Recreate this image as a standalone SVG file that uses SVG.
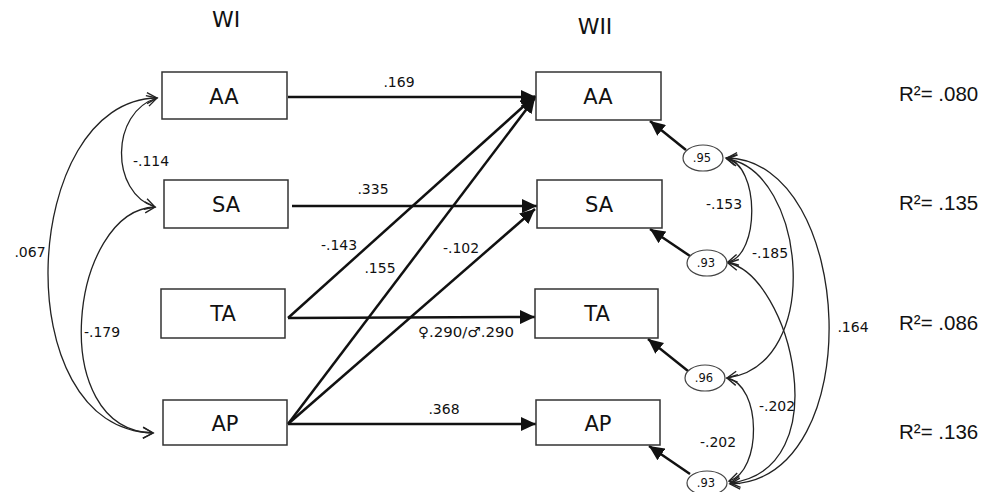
<svg xmlns="http://www.w3.org/2000/svg" width="998" height="492" viewBox="0 0 998 492">
<style>
.box{fill:#fff;stroke:#333;stroke-width:1.5}
.ell{fill:#fff;stroke:#444;stroke-width:1.2}
.bl{font-family:"DejaVu Sans",Verdana,sans-serif;font-size:21px;fill:#111;text-anchor:middle}
.hd{font-family:"DejaVu Sans",Verdana,sans-serif;font-size:22px;fill:#111;text-anchor:middle}
.lb{font-family:"DejaVu Sans",Verdana,sans-serif;font-size:14px;fill:#111;text-anchor:middle}
.el{font-family:"DejaVu Sans",Verdana,sans-serif;font-size:11.5px;fill:#111;text-anchor:middle}
.r2{font-family:"Liberation Sans",Arial,sans-serif;font-size:20.5px;fill:#111}
.path{fill:none;stroke:#111;stroke-width:2.5;marker-end:url(#fa)}
.cor{fill:none;stroke:#222;stroke-width:1.3;marker-start:url(#oa);marker-end:url(#oa)}
</style>
<defs>
<marker id="fa" markerUnits="userSpaceOnUse" markerWidth="16" markerHeight="14" refX="15" refY="7" orient="auto">
<path d="M0,0 L15,7 L0,14 Z" fill="#111"/>
</marker>
<marker id="oa" markerUnits="userSpaceOnUse" markerWidth="14" markerHeight="14" refX="11" refY="7" orient="auto-start-reverse">
<path d="M1,1.5 L11,7 L1,12.5" fill="none" stroke="#222" stroke-width="1.4"/>
</marker>
</defs>
<rect width="998" height="492" fill="#fff"/>
<text class="hd" x="226" y="27">WI</text>
<text class="hd" x="595" y="34">WII</text>

<g id="connectors">
<path class="path" d="M288,97 L536,97"/>
<path class="path" d="M292,206 L537,206"/>
<path class="path" d="M288,318 L535,317"/>
<path class="path" d="M288,424 L536,424"/>
<path class="path" d="M288,318 L535,96"/>
<path class="path" d="M288,424 L535,98"/>
<path class="path" d="M288,424 L535,209"/>
<path class="path" d="M686,150 L650,121"/>
<path class="path" d="M690,256 L650,229"/>
<path class="path" d="M688,371 L648,339"/>
<path class="path" d="M690,474 L649,446"/>
<path class="cor" d="M157,98 C110,112 110,193 155,207"/>
<path class="cor" d="M157,98 C20,100 5,430 153,433"/>
<path class="cor" d="M155,207 C70,210 45,430 153,433"/>
<path class="cor" d="M726,158 C760,165 760,255 728,262"/>
<path class="cor" d="M727,159 C805,170 825,365 727,378"/>
<path class="cor" d="M727,158 C855,160 870,480 730,484"/>
<path class="cor" d="M728,263 C790,275 840,470 730,483"/>
<path class="cor" d="M727,378 C762,385 762,472 729,481"/>
<text class="lb" x="151" y="166">-.114</text>
<text class="lb" x="30" y="257">.067</text>
<text class="lb" x="102" y="337">-.179</text>
<text class="lb" x="399" y="87">.169</text>
<text class="lb" x="373" y="194">.335</text>
<text class="lb" x="339" y="250">-.143</text>
<text class="lb" x="380" y="273">.155</text>
<text class="lb" x="461" y="253">-.102</text>
<text class="lb" x="466" y="337" font-size="15" font-weight="bold" textLength="96" lengthAdjust="spacingAndGlyphs">♀<tspan font-weight="normal">.290/</tspan>♂<tspan font-weight="normal">.290</tspan></text>
<text class="lb" x="444" y="414">.368</text>
<text class="lb" x="724" y="209">-.153</text>
<text class="lb" x="770" y="258">-.185</text>
<text class="lb" x="853" y="332">.164</text>
<text class="lb" x="777" y="411">-.202</text>
<text class="lb" x="718" y="447">-.202</text>
</g>

<g id="w1-aa"><rect class="box" x="162" y="72" width="125" height="47"/><text class="bl" x="224" y="104">AA</text></g>
<g id="w1-sa"><rect class="box" x="164" y="180" width="124" height="48"/><text class="bl" x="226" y="212">SA</text></g>
<g id="w1-ta"><rect class="box" x="161" y="289" width="124" height="49"/><text class="bl" x="223" y="321">TA</text></g>
<g id="w1-ap"><rect class="box" x="163" y="400" width="124" height="45"/><text class="bl" x="225" y="431">AP</text></g>

<g id="w2-aa"><rect class="box" x="536" y="72" width="125" height="48"/><text class="bl" x="598" y="104">AA</text></g>
<g id="w2-sa"><rect class="box" x="537" y="180" width="125" height="48"/><text class="bl" x="599" y="212">SA</text></g>
<g id="w2-ta"><rect class="box" x="535" y="289" width="123" height="49"/><text class="bl" x="597" y="321">TA</text></g>
<g id="w2-ap"><rect class="box" x="536" y="400" width="124" height="45"/><text class="bl" x="598" y="431">AP</text></g>

<g id="e1"><ellipse class="ell" cx="703" cy="158" rx="20" ry="13"/><text class="el" x="702" y="162">.95</text></g>
<g id="e2"><ellipse class="ell" cx="707" cy="263" rx="20" ry="13"/><text class="el" x="706" y="267">.93</text></g>
<g id="e3"><ellipse class="ell" cx="705" cy="378" rx="20" ry="13"/><text class="el" x="704" y="382">.96</text></g>
<g id="e4"><ellipse class="ell" cx="707" cy="483" rx="20" ry="12"/><text class="el" x="706" y="487">.93</text></g>

<g id="r2">
<text class="r2" x="899" y="101">R²= .080</text>
<text class="r2" x="899" y="210">R²= .135</text>
<text class="r2" x="899" y="330">R²= .086</text>
<text class="r2" x="899" y="439">R²= .136</text>
</g>
</svg>
